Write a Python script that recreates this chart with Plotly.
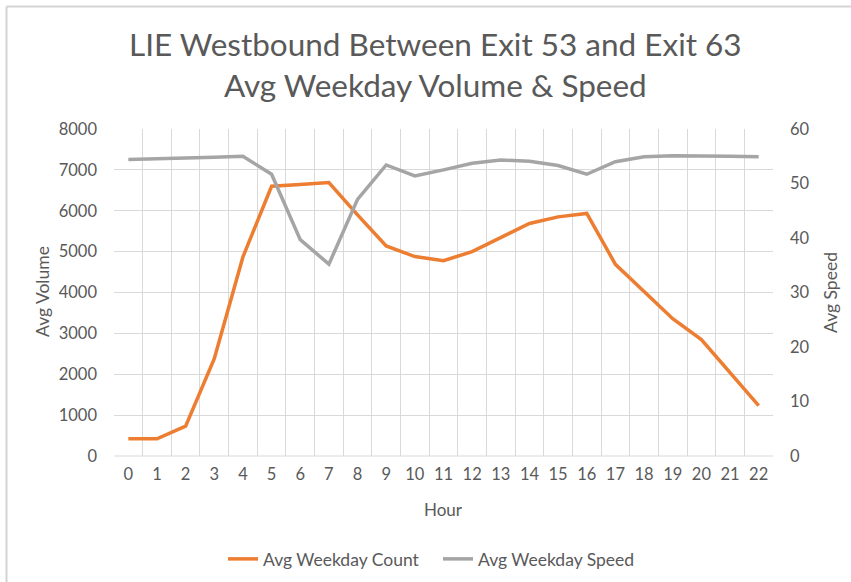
import plotly.graph_objects as go

hours = list(range(23))
hour_labels = [str(h) for h in hours]
avg_count = [420, 420, 730, 2380, 4870, 6600, 6640, 6690, 5900, 5140, 4880, 4780, 5000, 5340,
             5690, 5850, 5935, 4690, 4010, 3360, 2850, 2040, 1230]
avg_speed = [54.4, 54.6, 54.7, 54.8, 55.0, 51.7, 39.7, 35.2, 47.1, 53.4, 51.4, 52.5, 53.7, 54.3,
             54.1, 53.3, 51.7, 54.0, 54.9, 55.1, 55.1, 55.0, 54.9]

FONT = "Lato"
TXT = "#595959"
GRID = "#d9d9d9"

W, H = 851, 582
L, R, T, B = 114, 773, 129, 456
pw, ph = R - L, B - T

def px(x):
    return (x - L) / pw

def py(y):
    return (B - y) / ph

fig = go.Figure()
fig.add_trace(go.Scatter(x=hours, y=avg_count, name="Avg Weekday Count", mode="lines",
                         line=dict(color="#ED7D31", width=3.5), yaxis="y"))
fig.add_trace(go.Scatter(x=hours, y=avg_speed, name="Avg Weekday Speed", mode="lines",
                         line=dict(color="#A5A5A5", width=3.5), yaxis="y2"))

fig.update_layout(
    width=W, height=H,
    margin=dict(l=L, r=W - R, t=T, b=H - B, autoexpand=False),
    paper_bgcolor="white", plot_bgcolor="white",
    font=dict(family=FONT, color=TXT, size=17),
    showlegend=True,
    legend=dict(orientation="h", x=px(223), xanchor="left", y=py(559), yanchor="middle",
                font=dict(size=17.5, color=TXT), itemwidth=30, tracegroupgap=0,
                entrywidth=170, entrywidthmode="pixels"),
    xaxis=dict(range=[-0.5, 22.5], tickvals=hours, ticktext=hour_labels, showgrid=False,
               zeroline=False, showline=False, ticks="", tickfont=dict(size=16.5, color=TXT),
               ticklabelstandoff=6,
               minor=dict(tick0=0.5, dtick=1, showgrid=True, gridcolor=GRID, gridwidth=1),
               fixedrange=True),
    yaxis=dict(range=[0, 8000], dtick=1000, showgrid=True, gridcolor=GRID, gridwidth=1,
               zeroline=False, showline=False, ticks="", tickfont=dict(size=16.5, color=TXT),
               ticklabelstandoff=16),
    yaxis2=dict(range=[0, 60], dtick=10, overlaying="y", side="right", showgrid=False,
                zeroline=False, showline=False, ticks="", tickfont=dict(size=16.5, color=TXT),
                ticklabelstandoff=16),
    annotations=[
        dict(text="LIE Westbound Between Exit 53 and Exit 63<br>Avg Weekday Volume &amp; Speed",
             x=px(435), xref="paper", y=py(64.5), yref="paper", xanchor="center", yanchor="middle",
             showarrow=False, font=dict(size=31.5, color=TXT, family=FONT)),
        dict(text="Hour", x=0.5, xref="paper", y=py(509), yref="paper", xanchor="center",
             yanchor="middle", showarrow=False, font=dict(size=17, color=TXT)),
        dict(text="Avg Volume", x=px(42), xref="paper", y=py(292), yref="paper", xanchor="center",
             yanchor="middle", textangle=-90, showarrow=False, font=dict(size=17.5, color=TXT)),
        dict(text="Avg Speed", x=px(830), xref="paper", y=py(292), yref="paper", xanchor="center",
             yanchor="middle", textangle=-90, showarrow=False, font=dict(size=17.5, color=TXT)),
    ],
    shapes=[
        dict(type="line", xref="paper", yref="paper", x0=px(6.5), x1=px(851), y0=py(6.5),
             y1=py(6.5), line=dict(color="#d4d4d4", width=2)),
        dict(type="line", xref="paper", yref="paper", x0=px(6.5), x1=px(6.5), y0=py(6.5),
             y1=py(582), line=dict(color="#d4d4d4", width=2)),
        dict(type="line", xref="paper", yref="paper", x0=0, x1=1, y0=0, y1=0,
             line=dict(color=GRID, width=1), layer="below"),
    ],
)

fig.write_html("out.html", config={"displayModeBar": False},
               post_script="document.body.style.margin='0';document.body.style.overflow='hidden';")
